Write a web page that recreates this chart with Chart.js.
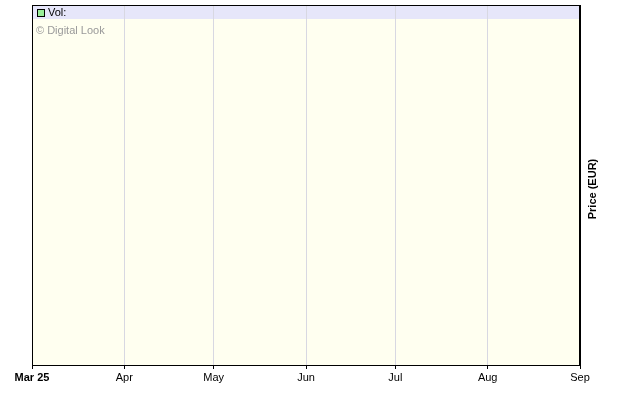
<!DOCTYPE html>
<html>
<head>
<meta charset="utf-8">
<script src="https://cdn.jsdelivr.net/npm/chart.js@4"></script>
<style>
  body { margin: 0; background: #fff; }
  #wrap { width: 640px; height: 401px; }
</style>
</head>
<body>
<div id="wrap"><canvas id="myChart" width="640" height="401"></canvas></div>
<script>
// days since 1 Mar 2025 for each month tick
const tickDays = [0, 31, 61, 92, 122, 153, 184];
const tickLabels = ["Mar 25", "Apr", "May", "Jun", "Jul", "Aug", "Sep"];
// no trades shown in the picture
const volDates = [];
const volValues = [];
const seriesLabel = "Vol:";
const yTitle = "Price (EUR)";
const watermark = "\u00a9 Digital Look";

const FONT = "Arial, 'Liberation Sans', sans-serif";

const framePlugin = {
  id: "frame",
  beforeDraw(chart) {
    const { ctx, chartArea: a } = chart;
    ctx.save();
    ctx.fillStyle = "#fffff0";
    ctx.fillRect(a.left, a.top, a.right - a.left, a.bottom - a.top);
    ctx.fillStyle = "#e6e6fa";
    ctx.fillRect(a.left, a.top, a.right - a.left, 14);
    ctx.restore();
  },
  afterDraw(chart) {
    const { ctx, chartArea: a } = chart;
    const ds = chart.data.datasets[0];
    ctx.save();
    // outer frame
    ctx.strokeStyle = "#000";
    ctx.lineWidth = 1;
    ctx.strokeRect(a.left + 0.5, a.top + 0.5, a.right - a.left - 1, a.bottom - a.top);
    // legend
    ctx.fillStyle = ds.backgroundColor;
    ctx.fillRect(a.left + 5.5, a.top + 4.5, 7, 7);
    ctx.strokeRect(a.left + 5.5, a.top + 4.5, 7, 7);
    ctx.font = "11px " + FONT;
    ctx.textBaseline = "middle";
    ctx.fillStyle = "#000";
    ctx.fillText(ds.label, a.left + 16, a.top + 8);
    // watermark
    ctx.fillStyle = "#9a9a9a";
    ctx.fillText(watermark, a.left + 4, a.top + 26);
    // right axis title, reading bottom to top
    ctx.translate(a.right + 13, (a.top + a.bottom) / 2 + 4);
    ctx.rotate(-Math.PI / 2);
    ctx.textAlign = "center";
    ctx.fillStyle = "#000";
    ctx.font = "bold 11px " + FONT;
    ctx.fillText(yTitle, 0, 0);
    ctx.restore();
  }
};

const ctx = document.getElementById("myChart").getContext("2d");
new Chart(ctx, {
  type: "bar",
  data: {
    datasets: [{
      label: seriesLabel,
      data: volDates.map((d, i) => ({ x: d, y: volValues[i] })),
      backgroundColor: "#99ee99",
      borderColor: "#000"
    }]
  },
  options: {
    responsive: false,
    animation: false,
    layout: { padding: { left: 32, top: 5, right: 0, bottom: 0 } },
    plugins: { legend: { display: false }, tooltip: { enabled: false } },
    scales: {
      x: {
        type: "linear",
        offset: false,
        min: tickDays[0],
        max: tickDays[tickDays.length - 1],
        afterBuildTicks(scale) {
          scale.ticks = tickDays.map(v => ({ value: v }));
        },
        afterFit(scale) { scale.height = 36; },
        ticks: {
          autoSkip: false,
          maxRotation: 0,
          padding: 2,
          color: "#000",
          font: c => ({ family: FONT, size: 11, weight: c.index === 0 ? "bold" : "normal" }),
          callback: (v) => tickLabels[tickDays.indexOf(v)]
        },
        grid: { offset: false, color: "#d8d8e2", tickColor: "#000", tickLength: 4 },
        border: { display: true, color: "#000" }
      },
      y: {
        position: "right",
        afterFit(scale) { scale.width = 60; },
        ticks: { display: false },
        grid: { display: false },
        border: { display: true, color: "#000" }
      }
    }
  },
  plugins: [framePlugin]
});
</script>
</body>
</html>
